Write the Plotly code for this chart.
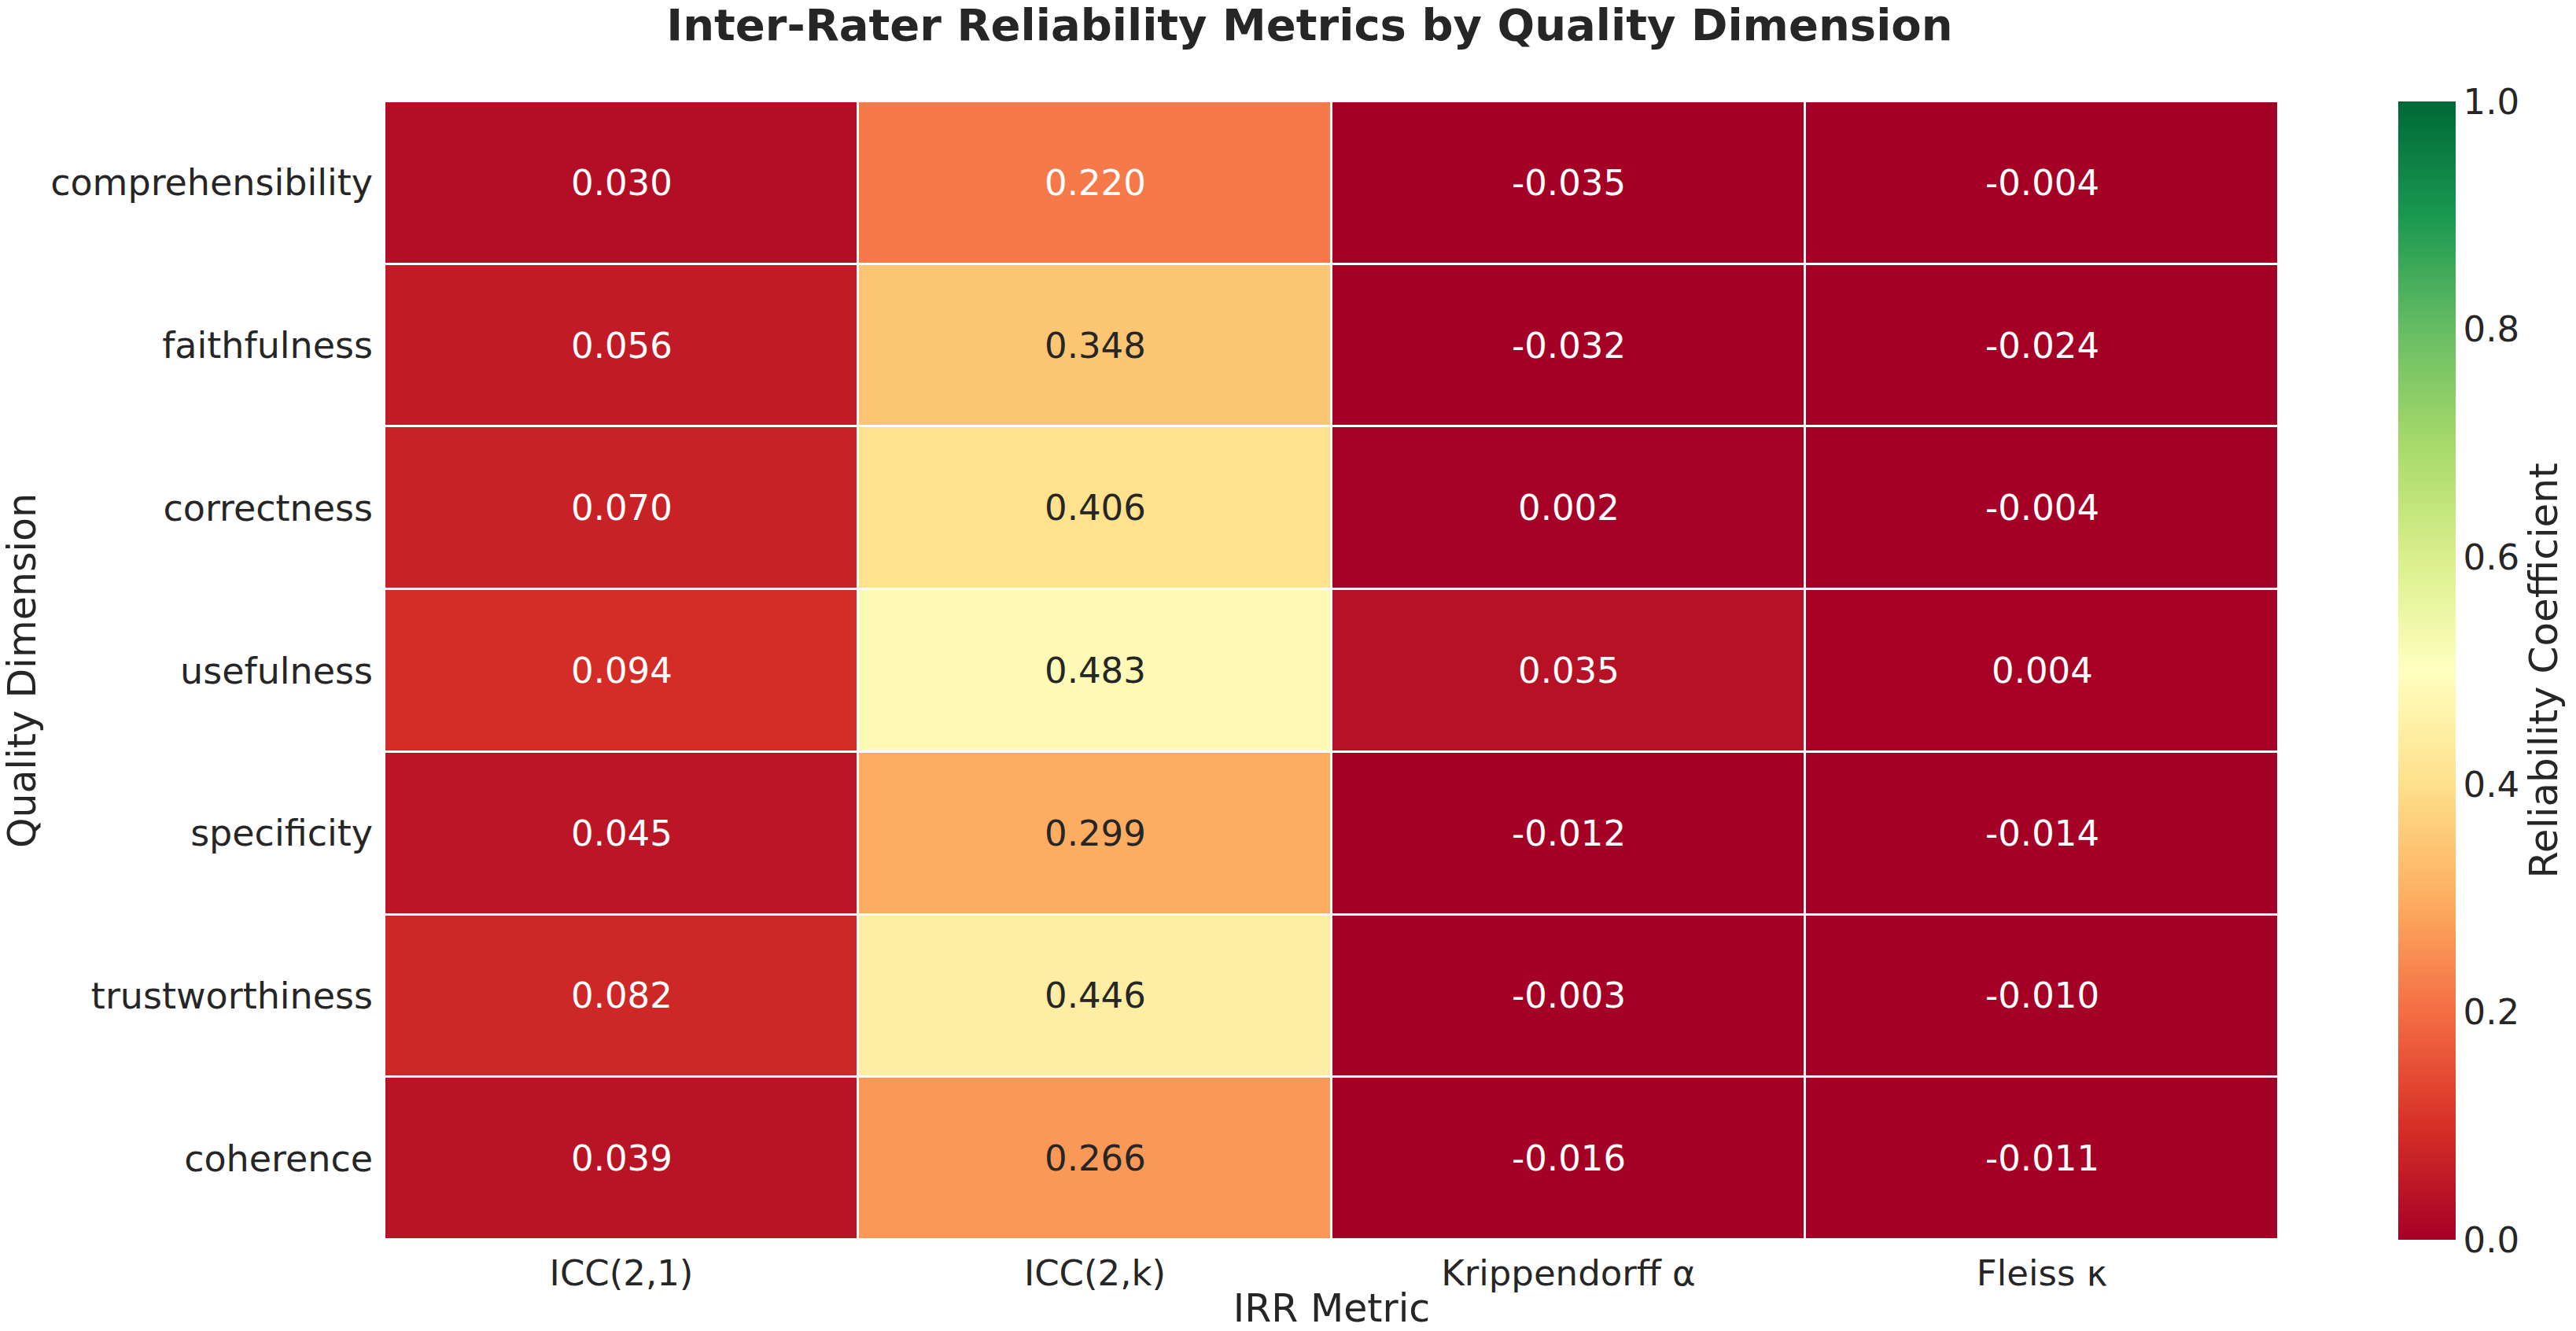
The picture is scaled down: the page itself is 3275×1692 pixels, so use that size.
import plotly.graph_objects as go

dimensions = ["comprehensibility", "faithfulness", "correctness", "usefulness",
              "specificity", "trustworthiness", "coherence"]
metrics = ["ICC(2,1)", "ICC(2,k)", "Krippendorff α", "Fleiss κ"]

icc21 = [0.030, 0.056, 0.070, 0.094, 0.045, 0.082, 0.039]
icc2k = [0.220, 0.348, 0.406, 0.483, 0.299, 0.446, 0.266]
kripp = [-0.035, -0.032, 0.002, 0.035, -0.012, -0.003, -0.016]
fleiss = [-0.004, -0.024, -0.004, 0.004, -0.014, -0.010, -0.011]

z = [[icc21[i], icc2k[i], kripp[i], fleiss[i]] for i in range(len(dimensions))]

W, H = 3275, 1692
L, R, T, B = 489, 2897, 129, 1576
FONT = "DejaVu Sans"
DARK = "#262626"

fig = go.Figure()
fig.add_trace(go.Heatmap(
    z=z, x=metrics, y=dimensions,
    colorscale="RdYlGn", zmin=0, zmax=1,
    xgap=3, ygap=3,
    colorbar=dict(
        x=(3049 - L) / (R - L), xanchor="left", xref="paper",
        y=0.5, yanchor="middle", len=1, lenmode="fraction", ypad=0, xpad=0,
        thickness=73, outlinewidth=0,
        tickvals=[0, 0.2, 0.4, 0.6, 0.8, 1.0],
        ticktext=["0.0", "0.2", "0.4", "0.6", "0.8", "1.0"],
        ticks="", tickfont=dict(family=FONT, size=45, color=DARK),
        title=dict(text="Reliability Coefficient", side="right",
                   font=dict(family=FONT, size=50, color=DARK)),
    ),
    hoverinfo="skip",
))

annotations = []
for i, d in enumerate(dimensions):
    for j, m in enumerate(metrics):
        v = z[i][j]
        col = DARK if 0.25 <= v <= 0.75 else "white"
        annotations.append(dict(
            x=m, y=d, xref="x", yref="y", text=f"{v:.3f}", showarrow=False,
            font=dict(family=FONT, size=45, color=col),
        ))

fig.update_layout(
    width=W, height=H,
    margin=dict(l=L, r=W - R, t=T, b=H - B, pad=0, autoexpand=False),
    paper_bgcolor="white", plot_bgcolor="white",
    title=dict(text="<b>Inter-Rater Reliability Metrics by Quality Dimension</b>",
               x=1665 / W, xanchor="center", y=1 - 31 / H, yanchor="middle",
               font=dict(family=FONT, size=56, color=DARK)),
    xaxis=dict(title=dict(text="IRR Metric", font=dict(family=FONT, size=49, color=DARK), standoff=16),
               tickfont=dict(family=FONT, size=45, color=DARK), showgrid=False,
               zeroline=False, ticks="", ticklabelstandoff=12),
    yaxis=dict(title=dict(text="Quality Dimension", font=dict(family=FONT, size=49, color=DARK), standoff=8),
               tickfont=dict(family=FONT, size=46, color=DARK), showgrid=False,
               zeroline=False, ticks="", autorange="reversed", ticklabelstandoff=14),
    annotations=annotations,
)

fig.write_html("out.html")
